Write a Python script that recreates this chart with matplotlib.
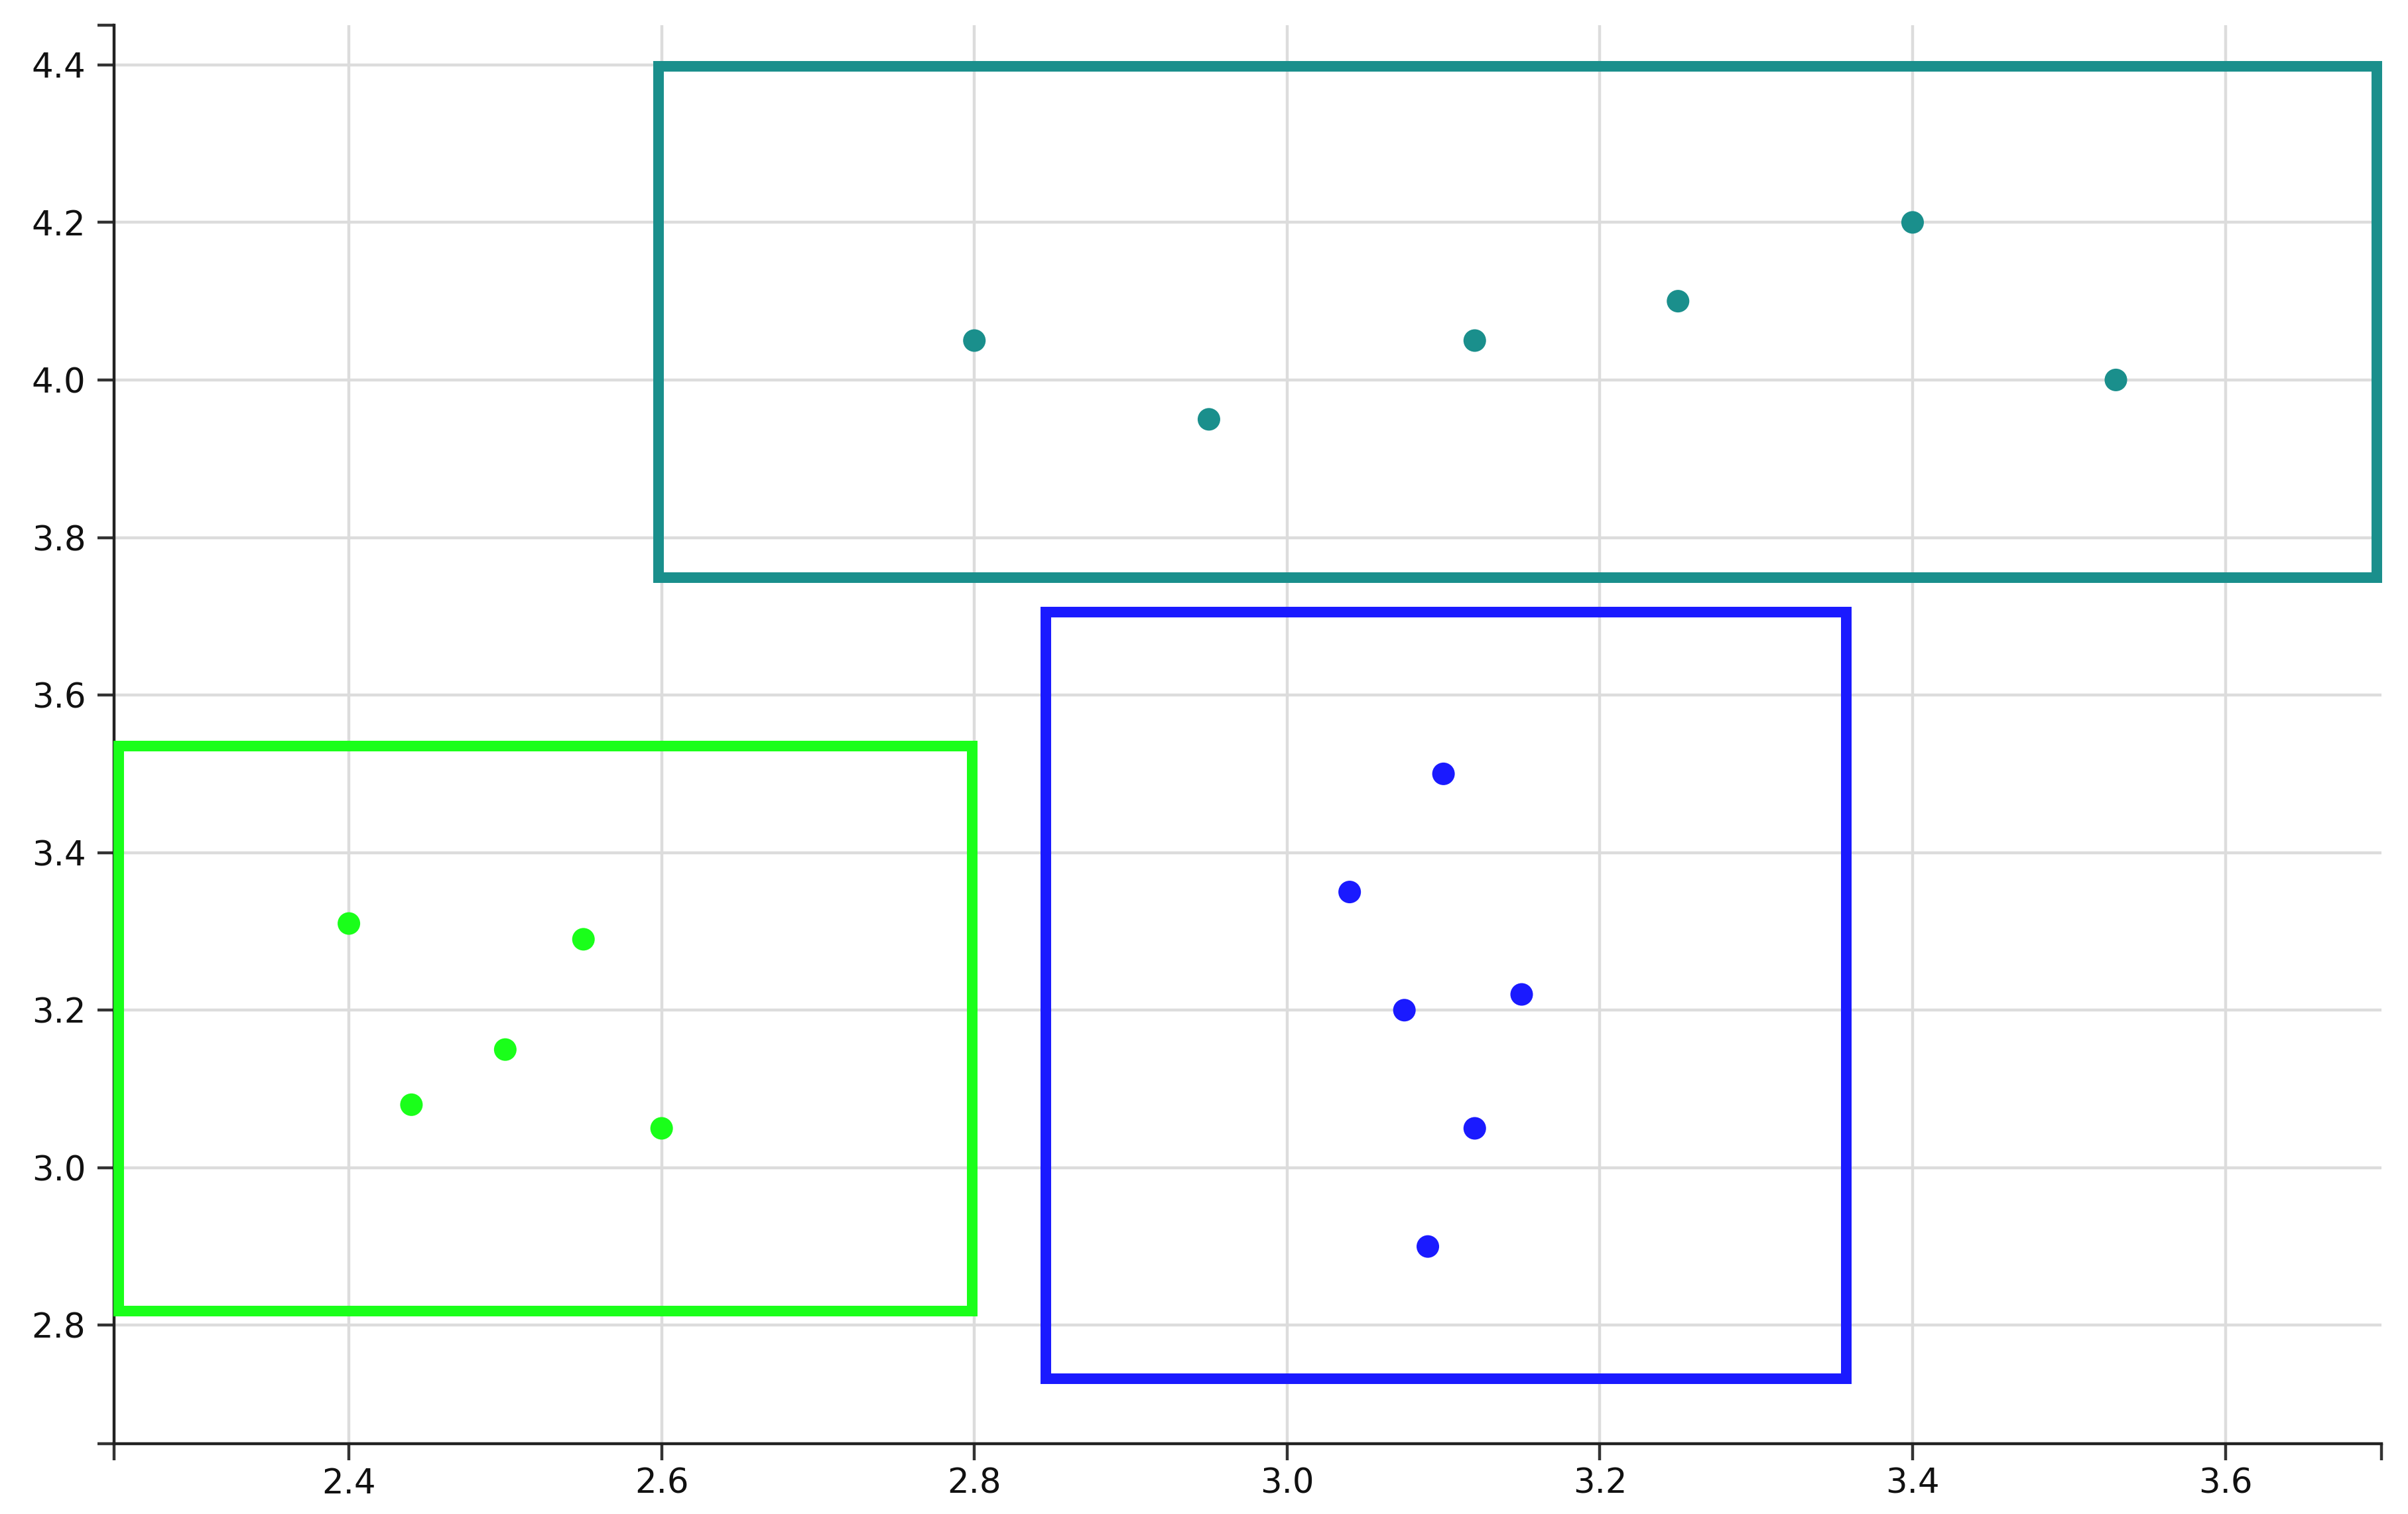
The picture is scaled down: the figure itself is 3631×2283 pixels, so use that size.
import matplotlib
matplotlib.use("Agg")
import matplotlib.pyplot as plt
from matplotlib.patches import Rectangle

# ---- data ----
green_x = [2.40, 2.44, 2.50, 2.55, 2.60]
green_y = [3.31, 3.08, 3.15, 3.29, 3.05]

blue_x = [3.10, 3.04, 3.075, 3.15, 3.12, 3.09]
blue_y = [3.50, 3.35, 3.20, 3.22, 3.05, 2.90]

teal_x = [2.80, 2.95, 3.12, 3.25, 3.40, 3.53]
teal_y = [4.05, 3.95, 4.05, 4.10, 4.20, 4.00]

# bounding boxes: (x_min, x_max, y_min, y_max)
green_box = (2.253, 2.7985, 2.818, 3.535)
blue_box = (2.8456, 3.3576, 2.732, 3.705)
teal_box = (2.598, 3.697, 3.749, 4.398)

x_ticks = [2.4, 2.6, 2.8, 3.0, 3.2, 3.4, 3.6]
y_ticks = [2.8, 3.0, 3.2, 3.4, 3.6, 3.8, 4.0, 4.2, 4.4]
x_limits = (2.25, 3.70)
y_limits = (2.65, 4.45)

GREEN = "#1aff1a"
BLUE = "#1a1aff"
TEAL = "#1a8f8c"

plt.rcParams['font.family'] = ['DejaVu Sans']

fig = plt.figure(figsize=(36.31, 22.83), dpi=100)
ax = fig.add_axes([0.04748, 0.0466, 0.9416, 0.9366])

ax.set_xlim(*x_limits)
ax.set_ylim(*y_limits)
ax.set_xticks(x_ticks)
ax.set_yticks(y_ticks)
ax.set_xticklabels([f"{v:.1f}" for v in x_ticks])
ax.set_yticklabels([f"{v:.1f}" for v in y_ticks])
# outer (domain end) ticks
ax.set_xticks(list(x_limits), minor=True)
ax.set_yticks(list(y_limits), minor=True)

ax.grid(True, which='major', color='#dcdcdc', linewidth=3.2, zorder=0)
ax.set_axisbelow(True)

for side in ['top', 'right']:
    ax.spines[side].set_visible(False)
for side in ['left', 'bottom']:
    ax.spines[side].set_color('#222222')
    ax.spines[side].set_linewidth(3.2)

ax.tick_params(axis='both', which='both', direction='out', length=18,
               width=3.2, color='#333333')
ax.tick_params(axis='x', which='major', labelsize=37, pad=8, labelcolor='#111111')
ax.tick_params(axis='y', which='major', labelsize=37, pad=13, labelcolor='#111111')

def draw_box(box, color):
    x0, x1, y0, y1 = box
    r = Rectangle((x0, y0), x1 - x0, y1 - y0, fill=False, edgecolor=color,
                  linewidth=11.5, joinstyle='miter', zorder=3, clip_on=False)
    ax.add_patch(r)

draw_box(teal_box, TEAL)
draw_box(blue_box, BLUE)
draw_box(green_box, GREEN)

ax.scatter(teal_x, teal_y, s=600, color=TEAL, edgecolors='none', zorder=4)
ax.scatter(blue_x, blue_y, s=600, color=BLUE, edgecolors='none', zorder=4)
ax.scatter(green_x, green_y, s=600, color=GREEN, edgecolors='none', zorder=4)

fig.savefig("out.png", dpi=100, facecolor='white')
